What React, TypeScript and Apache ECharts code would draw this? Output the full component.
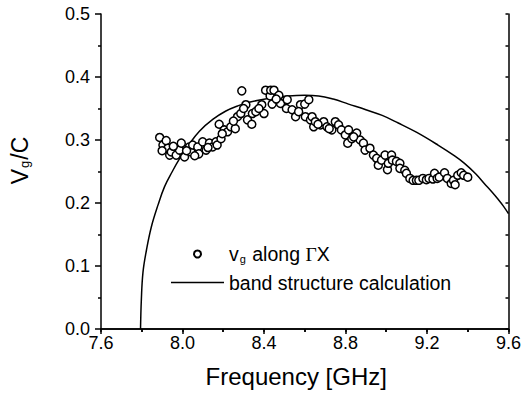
import React, { useEffect, useRef } from "react";
import * as echarts from "echarts";

const FONT = "'Liberation Sans', Arial, Helvetica, sans-serif";

const VG_NAME = "vg along ΓX";
const BAND_NAME = "band structure calculation";

// measured group velocity (frequency GHz, vg/c)
const measFreq = [
  7.888, 7.904, 7.92, 7.928, 7.937, 7.945, 7.969, 7.985, 7.994, 8.01,
  8.034, 8.042, 8.05, 8.075, 8.08, 8.099, 8.116, 8.132, 8.148, 8.164,
  8.17, 8.18, 8.189, 8.205, 8.221, 8.237, 8.259, 8.27, 8.286, 8.291,
  8.311, 8.319, 8.34, 8.343, 8.36, 8.389, 8.4, 8.408, 8.43, 8.433,
  8.44, 8.449, 8.473, 8.481, 8.51, 8.514, 8.538, 8.555, 8.579, 8.6,
  8.603, 8.62, 8.628, 8.636, 8.644, 8.652, 8.677, 8.693, 8.709, 8.733,
  8.75, 8.766, 8.78, 8.799, 8.811, 8.815, 8.831, 8.855, 8.872, 8.888,
  8.896, 8.92, 8.937, 8.953, 8.961, 8.977, 8.994, 9.006, 9.01, 9.026,
  9.03, 9.05, 9.067, 9.067, 9.091, 9.099, 9.116, 9.132, 9.148, 9.16,
  9.18, 9.197, 9.21, 9.229, 9.237, 9.25, 9.26, 9.286, 9.3, 9.319,
  9.33, 9.338, 9.351, 9.368, 9.38, 9.4, 7.9, 7.955, 8.02, 8.06,
  8.125, 8.195, 8.25, 8.3, 8.375, 8.46, 8.57, 8.665, 8.72, 8.84,
];
const measVg = [
  0.304, 0.292, 0.299, 0.287, 0.276, 0.281, 0.276, 0.284, 0.295, 0.273,
  0.289, 0.281, 0.292, 0.289, 0.278, 0.297, 0.284, 0.295, 0.289, 0.297,
  0.292, 0.325, 0.302, 0.316, 0.313, 0.321, 0.318, 0.337, 0.342, 0.378,
  0.356, 0.332, 0.325, 0.342, 0.345, 0.356, 0.342, 0.379, 0.37, 0.379,
  0.357, 0.379, 0.371, 0.358, 0.35, 0.364, 0.348, 0.337, 0.356, 0.357,
  0.337, 0.364, 0.332, 0.337, 0.321, 0.329, 0.324, 0.329, 0.321, 0.316,
  0.329, 0.324, 0.316, 0.308, 0.295, 0.316, 0.302, 0.311, 0.3, 0.295,
  0.284, 0.287, 0.276, 0.271, 0.26, 0.268, 0.276, 0.253, 0.263, 0.276,
  0.268, 0.266, 0.263, 0.255, 0.252, 0.247, 0.239, 0.236, 0.236, 0.236,
  0.239, 0.237, 0.239, 0.238, 0.247, 0.239, 0.241, 0.248, 0.239, 0.231,
  0.236, 0.229, 0.244, 0.248, 0.244, 0.241, 0.283, 0.29, 0.283, 0.275,
  0.288, 0.31, 0.33, 0.35, 0.35, 0.365, 0.345, 0.325, 0.318, 0.305,
];

// band structure calculation curve
const bandFreq = [
  7.794, 7.798, 7.806, 7.823, 7.847, 7.88, 7.912, 7.95, 7.985, 8.03,
  8.083, 8.15, 8.213, 8.27, 8.327, 8.44, 8.52, 8.6, 8.668, 8.74,
  8.815, 8.9, 8.98, 9.059, 9.15, 9.254, 9.33, 9.384, 9.44, 9.481,
  9.52, 9.546, 9.575, 9.6,
];
const bandVg = [
  0.0, 0.046, 0.09, 0.125, 0.162, 0.197, 0.226, 0.25, 0.27, 0.292,
  0.314, 0.333, 0.346, 0.354, 0.36, 0.367, 0.37, 0.371, 0.37, 0.365,
  0.357, 0.348, 0.339, 0.327, 0.312, 0.292, 0.276, 0.263, 0.246, 0.231,
  0.217, 0.207, 0.195, 0.183,
];

const xTicks = { min: 7.6, max: 9.6, interval: 0.4 };
const yTicks = { min: 0, max: 0.5, interval: 0.1 };

export default function App() {
  const ref = useRef<HTMLDivElement>(null);
  useEffect(() => {
    if (!ref.current) return;
    const chart = echarts.init(ref.current, null, { renderer: "svg" });
    const axisLine = { show: true, lineStyle: { color: "#000", width: 1.5 } };
    const labelStyle = { color: "#000", fontSize: 18, fontFamily: FONT };
    chart.setOption({
      animation: false,
      backgroundColor: "#fff",
      grid: { left: 101, right: 13, top: 14, bottom: 69, containLabel: false },
      legend: {
        orient: "vertical",
        left: 171,
        top: 244,
        padding: 0,
        itemWidth: 53,
        itemHeight: 7,
        itemGap: 8,
        symbolKeepAspect: true,
        selectedMode: false,
        data: [
          { name: VG_NAME },
          { name: BAND_NAME, icon: "path://M0,0 H100 V3 H0 Z" },
        ],
        formatter: (name: string) =>
          name === VG_NAME
            ? "{t|v}{sub|g}{t| along }{gr|Γ}{t|X}"
            : "{t|" + name + "}",
        textStyle: {
          color: "#000",
          fontFamily: FONT,
          fontSize: 19.5,
          rich: {
            t: { fontSize: 19.5, fontFamily: FONT, color: "#000" },
            sub: { fontSize: 11, fontFamily: FONT, color: "#000", padding: [10, 1, 0, 1] },
            gr: { fontSize: 19.5, fontFamily: "'Liberation Serif', serif", color: "#000" },
          },
        },
      },
      xAxis: [
        {
          type: "value",
          position: "bottom",
          min: xTicks.min,
          max: xTicks.max,
          interval: xTicks.interval,
          axisLine,
          axisTick: { show: true, inside: false, length: 5, lineStyle: { color: "#000", width: 1.5 } },
          minorTick: { show: true, splitNumber: 2, length: 3, lineStyle: { color: "#000", width: 1.5 } },
          splitLine: { show: false },
          axisLabel: { ...labelStyle, margin: 5, formatter: (v: number) => v.toFixed(1) },
          name: "Frequency [GHz]",
          nameLocation: "middle",
          nameGap: 35,
          nameTextStyle: { color: "#000", fontSize: 24, fontFamily: FONT, padding: [0, 17, 0, 0] },
        },
        {
          type: "value",
          position: "top",
          min: xTicks.min,
          max: xTicks.max,
          interval: xTicks.interval,
          axisLine,
          axisTick: { show: true, inside: true, length: 3, lineStyle: { color: "#000", width: 1.5 } },
          minorTick: { show: true, splitNumber: 2, length: 3, lineStyle: { color: "#000", width: 1.5 } },
          splitLine: { show: false },
          axisLabel: { show: false },
        },
      ],
      yAxis: [
        {
          type: "value",
          position: "left",
          min: yTicks.min,
          max: yTicks.max,
          interval: yTicks.interval,
          axisLine,
          axisTick: { show: true, inside: false, length: 6, lineStyle: { color: "#000", width: 1.5 } },
          minorTick: { show: true, splitNumber: 2, length: 3, lineStyle: { color: "#000", width: 1.5 } },
          splitLine: { show: false },
          axisLabel: { ...labelStyle, margin: 11, formatter: (v: number) => v.toFixed(1) },
          name: "{t|V}{sub|g}{t|/C}",
          nameLocation: "middle",
          nameGap: 70,
          nameTextStyle: {
            color: "#000",
            fontFamily: FONT,
            padding: [0, 0, 0, 22],
            rich: {
              t: { fontSize: 23, fontFamily: FONT, color: "#000" },
              sub: { fontSize: 13, fontFamily: FONT, color: "#000", padding: [10, 1, 0, 1] },
            },
          },
        },
        {
          type: "value",
          position: "right",
          min: yTicks.min,
          max: yTicks.max,
          interval: yTicks.interval,
          axisLine,
          axisTick: { show: true, inside: true, length: 3, lineStyle: { color: "#000", width: 1.5 } },
          minorTick: { show: true, splitNumber: 2, length: 3, lineStyle: { color: "#000", width: 1.5 } },
          splitLine: { show: false },
          axisLabel: { show: false },
        },
      ],
      series: [
        {
          name: VG_NAME,
          type: "scatter",
          symbol: "circle",
          symbolSize: 8,
          itemStyle: { color: "#fff", borderColor: "#000", borderWidth: 1.5, opacity: 1 },
          data: measFreq.map((f, i) => [f, measVg[i]]),
          z: 3,
        },
        {
          name: BAND_NAME,
          type: "line",
          symbol: "none",
          showSymbol: false,
          smooth: 0.4,
          lineStyle: { color: "#000", width: 1.5 },
          itemStyle: { color: "#000" },
          data: bandFreq.map((f, i) => [f, bandVg[i]]),
          z: 2,
        },
      ],
    });
    return () => chart.dispose();
  }, []);
  return (
    <div
      ref={ref}
      style={{ position: "fixed", left: 0, top: 0, width: 524, height: 398, background: "#fff" }}
    />
  );
}
